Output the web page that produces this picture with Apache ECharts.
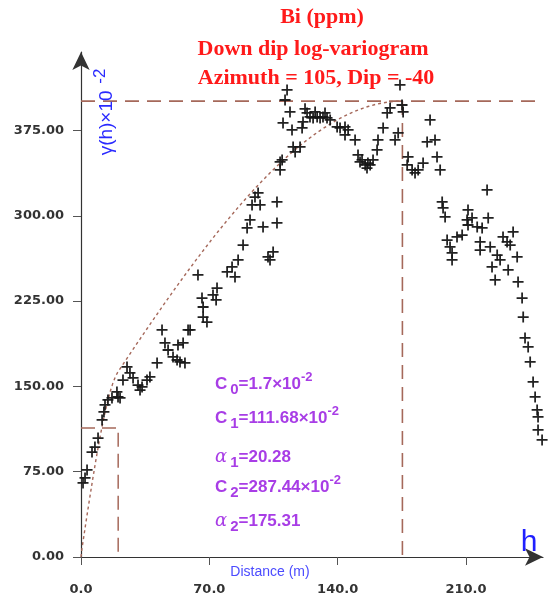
<!DOCTYPE html>
<html>
<head>
<meta charset="utf-8">
<script src="https://cdn.jsdelivr.net/npm/echarts@6/dist/echarts.min.js"></script>
<style>
  html, body { margin: 0; padding: 0; background: #fff; }
  #chart { width: 551px; height: 598px; }
</style>
</head>
<body>
<div id="chart"></div>
<script>
// Experimental log-variogram of Bi, down-dip direction
const lagDistance = [
  1.1, 2.2, 3.3, 6.0, 7.6, 9.3, 11.5, 12.5, 13.1, 14.7,
  16.9, 19.6, 20.2, 21.3, 22.9, 25.1, 26.7, 28.4, 31.1, 32.2,
  33.3, 36.0, 37.6, 41.5, 44.2, 45.8, 47.5, 50.2, 52.4, 54.0,
  56.7, 52.9, 55.7, 58.4, 59.5, 63.8, 66.6, 66.6, 66.0, 68.7,
  72.0, 74.2, 73.7, 79.7, 82.4, 84.0, 85.7, 88.4, 90.6, 92.2,
  99.3, 106.9, 106.9, 97.7, 93.3, 94.9, 96.6, 102.0, 103.1, 104.8,
  108.6, 108.6, 109.7, 115.7, 116.8, 119.5, 110.2, 115.1, 120.6, 121.1,
  123.3, 124.9, 126.6, 128.8, 130.4, 132.0, 134.2, 135.9, 114.0, 111.3,
  112.4, 139.7, 141.3, 144.0, 145.7, 144.0, 149.5, 151.1, 153.3, 155.0,
  156.0, 157.7, 159.3, 161.5, 162.0, 164.8, 167.0, 168.6, 171.3, 173.0,
  175.1, 175.7, 174.0, 178.4, 177.9, 180.6, 182.2, 183.9, 186.6, 188.8,
  190.4, 193.1, 194.2, 195.9, 197.0, 197.5, 198.6, 199.7, 201.3, 202.4,
  202.4, 205.1, 207.9, 210.6, 211.1, 213.3, 211.1, 216.1, 218.8, 217.7,
  217.7, 221.5, 222.1, 223.2, 227.0, 228.6, 224.2, 225.9, 230.2, 232.4,
  235.7, 234.1, 237.9, 233.0, 238.4, 240.6, 241.2, 242.2, 243.9, 245.0,
  246.6, 247.7, 248.8, 249.3, 249.3, 251.5,
  122.2, 127.7, 133.1, 152.2, 156.5
];
const semivariance = [
  65.1, 69.5, 76.5, 92.3, 96.7, 104.6, 120.5, 127.5, 133.7, 138.1,
  139.8, 145.1, 140.7, 139.8, 155.6, 167.1, 161.8, 157.4, 151.2, 146.8,
  149.5, 155.6, 158.3, 170.6, 199.6, 188.2, 182.0, 175.9, 173.2, 171.5,
  170.6, 186.4, 188.2, 199.6, 199.6, 248.0, 211.0, 219.8, 227.7, 206.6,
  230.4, 236.5, 226.0, 250.6, 255.0, 246.2, 261.2, 274.3, 289.3, 296.3,
  290.2, 293.7, 312.2, 309.5, 309.5, 316.5, 320.1, 263.8, 261.2, 268.2,
  340.3, 347.3, 349.1, 360.5, 356.1, 360.5, 381.6, 375.5, 377.2, 382.5,
  390.4, 386.9, 386.0, 386.9, 386.0, 386.9, 386.0, 384.3, 391.3, 401.8,
  410.6, 378.1, 377.2, 378.1, 375.5, 371.1, 366.7, 353.5, 349.1, 344.7,
  342.0, 344.7, 349.1, 357.9, 366.7, 377.2, 390.4, 394.8, 366.7, 372.8,
  397.4, 391.3, 415.0, 351.7, 344.7, 340.3, 337.7, 340.3, 346.4, 364.9,
  384.3, 366.7, 351.7, 340.3, 312.2, 306.9, 299.0, 278.7, 272.6, 267.3,
  261.2, 281.4, 283.1, 296.3, 305.1, 298.1, 291.9, 290.2, 289.3, 277.0,
  269.9, 322.7, 298.1, 272.6, 265.5, 261.2, 255.0, 243.6, 281.4, 277.0,
  285.8, 274.3, 263.8, 252.4, 241.8, 227.7, 211.0, 192.6, 184.7, 171.5,
  153.9, 140.7, 129.3, 123.1, 111.7, 102.9,
  394.0, 391.3, 390.4, 347.3, 346.4
];

// Nested spherical model (values in units of 10^-2)
const nugget = 1.7;
const sill1 = 111.68;
const range1 = 20.28;
const sill2 = 287.44;
const range2 = 175.31;

const xTicks = [0, 70, 140, 210];
const yTicks = [0, 75, 150, 225, 300, 375];
const xMax = 252;
const yMax = 444;

function spherical(h, a) {
  if (h >= a) return 1;
  const r = h / a;
  return 1.5 * r - 0.5 * r * r * r;
}
function model(h) {
  if (h === 0) return 0;
  return nugget + sill1 * spherical(h, range1) + sill2 * spherical(h, range2);
}

const modelCurve = [];
for (let h = 0; h < range2; h += 0.5) modelCurve.push([h, model(h)]);
modelCurve.push([range2, model(range2)]);

const totalSill = nugget + sill1 + sill2;
const firstSill = nugget + sill1;

const points = lagDistance.map((h, i) => [h, semivariance[i]]);

const brown = '#a5685a';
const purple = '#a83de6';
const plusPath = 'path://M4.2,0h1.6v4.2h4.2v1.6h-4.2v4.2h-1.6v-4.2h-4.2v-1.6h4.2z';

const chart = echarts.init(document.getElementById('chart'));

const noteRich = {
  n: { fontSize: 17, fontWeight: 'bold', fontFamily: 'Liberation Sans', fill: purple, lineHeight: 26, verticalAlign: 'middle' },
  a: { fontSize: 18, fontStyle: 'italic', fontFamily: 'DejaVu Serif', fill: purple, lineHeight: 26, verticalAlign: 'middle' },
  sub: { fontSize: 15, fontWeight: 'bold', fontFamily: 'Liberation Sans', fill: purple, lineHeight: 26, verticalAlign: 'bottom', padding: [0, 0, 0, 3] },
  sup: { fontSize: 13, fontWeight: 'bold', fontFamily: 'Liberation Sans', fill: purple, lineHeight: 26, verticalAlign: 'top' }
};
function note(text, y) {
  return { type: 'text', x: 215, y: y, style: { text: text, rich: noteRich, verticalAlign: 'middle' }, z: 10 };
}

const titleFont = 'bold 22px "Liberation Serif", serif';

chart.setOption({
  animation: false,
  backgroundColor: '#fff',
  grid: { left: 81, right: 8, top: 52, bottom: 41 },
  xAxis: {
    type: 'value', min: 0, max: xMax,
    splitLine: { show: false },
    axisLine: { lineStyle: { color: '#333', width: 1.2 }, symbol: ['none', 'arrow'], symbolSize: [13, 18] },
    axisTick: { customValues: xTicks, length: 8, lineStyle: { color: '#555' } },
    axisLabel: {
      customValues: xTicks, margin: 26,
      formatter: v => v.toFixed(1),
      color: '#333', fontWeight: 'bold', fontSize: 13, fontFamily: 'DejaVu Sans'
    }
  },
  yAxis: {
    type: 'value', min: 0, max: yMax,
    splitLine: { show: false },
    axisLine: { lineStyle: { color: '#333', width: 1.2 }, symbol: ['none', 'arrow'], symbolSize: [13, 18] },
    axisTick: { customValues: yTicks, length: 8, lineStyle: { color: '#555' } },
    axisLabel: {
      customValues: yTicks, margin: 17,
      formatter: v => v.toFixed(2),
      color: '#333', fontWeight: 'bold', fontSize: 13, fontFamily: 'DejaVu Sans'
    }
  },
  series: [
    {
      name: 'sill', type: 'line', symbol: 'none', silent: true,
      data: [[0, totalSill], [xMax, totalSill]],
      lineStyle: { color: brown, width: 1.6, type: [14, 8] }, z: 2
    },
    {
      name: 'range', type: 'line', symbol: 'none', silent: true,
      data: [[range2, totalSill], [range2, 0]],
      lineStyle: { color: brown, width: 1.6, type: [14, 8] }, z: 2
    },
    {
      name: 'short range', type: 'line', symbol: 'none', silent: true,
      data: [[0, firstSill], [range1, firstSill], [range1, 0]],
      lineStyle: { color: brown, width: 1.5, type: [14, 7] }, z: 2
    },
    {
      name: 'model', type: 'line', symbol: 'none', silent: true, smooth: false,
      data: modelCurve,
      lineStyle: { color: brown, width: 1.4, type: [3, 3] }, z: 3
    },
    {
      name: 'γ(h)', type: 'scatter', symbol: plusPath, symbolSize: 11,
      data: points,
      itemStyle: { color: '#161616', opacity: 0.95 }, z: 5
    }
  ],
  graphic: [
    { type: 'text', x: 322, y: 17, style: { text: 'Bi (ppm)', font: titleFont, fill: '#ff1a1a', align: 'center', verticalAlign: 'middle' }, z: 10 },
    { type: 'text', x: 313, y: 49, style: { text: 'Down dip log-variogram', font: titleFont, fill: '#ff1a1a', align: 'center', verticalAlign: 'middle' }, z: 10 },
    { type: 'text', x: 316, y: 78, style: { text: 'Azimuth = 105, Dip = -40', font: titleFont, fill: '#ff1a1a', align: 'center', verticalAlign: 'middle' }, z: 10 },
    {
      type: 'text', x: 104, y: 112, rotation: Math.PI / 2,
      style: {
        text: '{m|γ(h)×10}  {s|-2}', align: 'center', verticalAlign: 'middle',
        rich: {
          m: { fontSize: 19, fontFamily: 'Liberation Sans', fill: '#2a2aff', lineHeight: 24, verticalAlign: 'bottom' },
          s: { fontSize: 17, fontFamily: 'Liberation Sans', fill: '#2a2aff', lineHeight: 24, verticalAlign: 'top' }
        }
      }, z: 10
    },
    { type: 'text', x: 270, y: 572, style: { text: 'Distance (m)', font: '14px "Liberation Sans Narrow", "Liberation Sans", sans-serif', fill: '#4b4bff', align: 'center', verticalAlign: 'middle' }, z: 10 },
    { type: 'text', x: 529, y: 543, style: { text: 'h', font: '30px "Liberation Sans", sans-serif', fill: '#2020ff', align: 'center', verticalAlign: 'middle' }, z: 10 },
    note('{n|C}{sub|0}{n|=1.7×10}{sup|-2}', 384),
    note('{n|C}{sub|1}{n|=111.68×10}{sup|-2}', 418),
    note('{a|α}{sub|1}{n|=20.28}', 457),
    note('{n|C}{sub|2}{n|=287.44×10}{sup|-2}', 487),
    note('{a|α}{sub|2}{n|=175.31}', 521)
  ]
});
</script>
</body>
</html>
